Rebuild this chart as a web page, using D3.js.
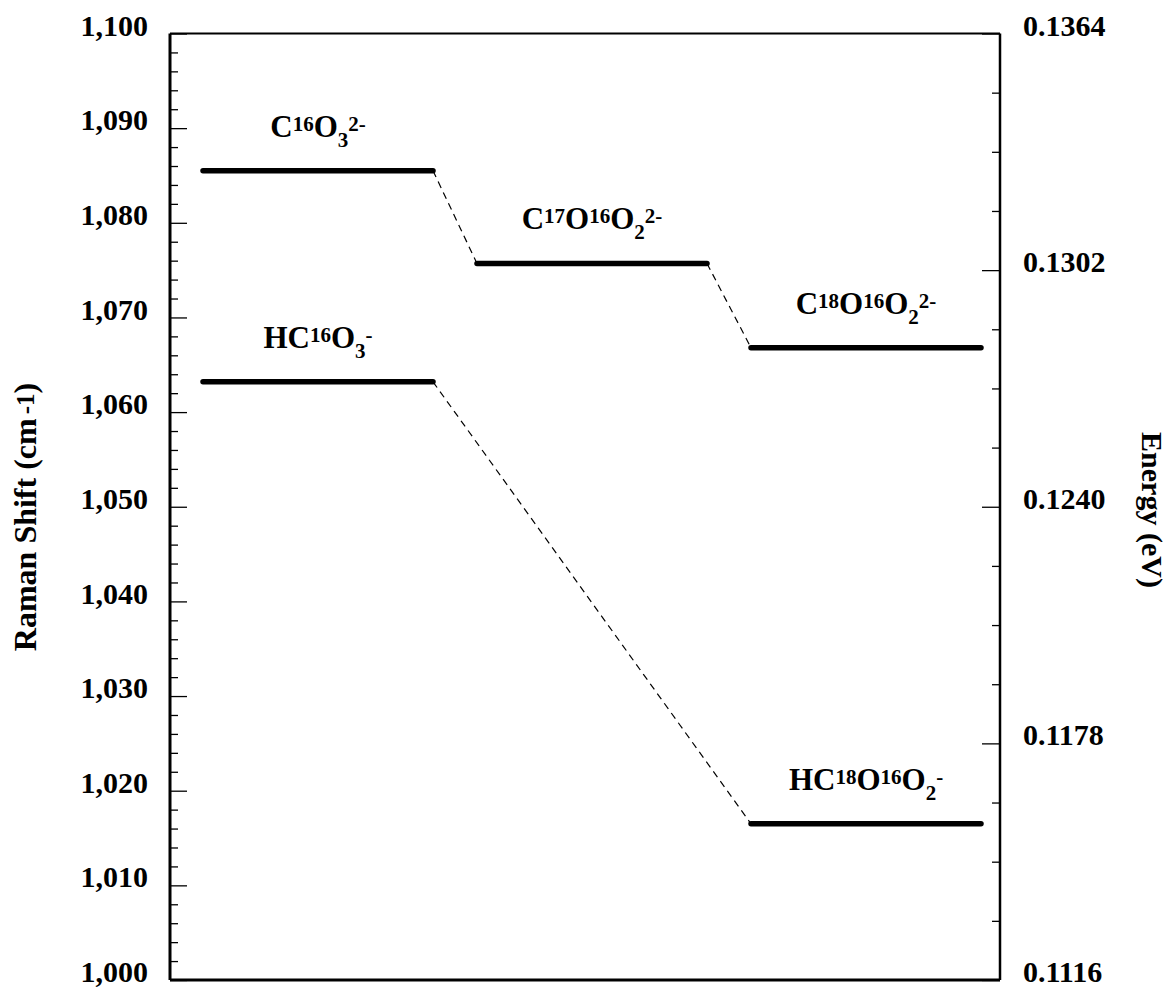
<!DOCTYPE html>
<html>
<head>
<meta charset="utf-8">
<script src="https://cdn.jsdelivr.net/npm/d3@7"></script>
<style>
  body { margin: 0; background: #fff; }
  text { font-family: "Liberation Serif", "Times New Roman", serif; font-weight: bold; }
</style>
</head>
<body>
<svg width="1170" height="987"></svg>
<script>
// Levels (Raman shift in cm-1), one per species
var species = ["C16O3 2-", "C17O16O2 2-", "C18O16O2 2-", "HC16O3-", "HC18O16O2-"];
var columns = [1, 2, 3, 1, 3];
var shifts = [1085.5, 1075.7, 1066.8, 1063.2, 1016.5];

// label pieces: [text, kind]  kind: "" normal, "sup", "sub"
var labelParts = [
    [["C", ""], ["16", "sup"], ["O", ""], ["3", "sub"], ["2-", "sup"]],
    [["C", ""], ["17", "sup"], ["O", ""], ["16", "sup"], ["O", ""], ["2", "sub"], ["2-", "sup"]],
    [["C", ""], ["18", "sup"], ["O", ""], ["16", "sup"], ["O", ""], ["2", "sub"], ["2-", "sup"]],
    [["HC", ""], ["16", "sup"], ["O", ""], ["3", "sub"], ["-", "sup"]],
    [["HC", ""], ["18", "sup"], ["O", ""], ["16", "sup"], ["O", ""], ["2", "sub"], ["-", "sup"]]
];

// dashed connectors between levels (index pairs)
var links = [[0, 1], [1, 2], [3, 4]];

// axis ticks
var leftTicks = [1000, 1010, 1020, 1030, 1040, 1050, 1060, 1070, 1080, 1090, 1100];
var rightTicks = [0.1116, 0.1178, 0.1240, 0.1302, 0.1364];

var svg = d3.select("svg");
var plotLeft = 170, plotTop = 33.5, plotRight = 1000, plotBottom = 980;

var y = d3.scaleLinear().domain([1000, 1100]).range([plotBottom, plotTop]);
var yE = d3.scaleLinear().domain([0.1116, 0.1364]).range([plotBottom, plotTop]);
var x = d3.scalePoint().domain([1, 2, 3]).range([plotLeft + 148, plotLeft + 696]);
var half = 115;

var leftMinor = d3.range(1000, 1101, 2).filter(function (v) { return v % 10 != 0; });
var rightMinor = d3.range(0, 17).map(function (i) { return 0.1116 + i * 0.00155; })
    .filter(function (v, i) { return i % 4 != 0; });

// minor ticks
svg.append("g")
    .attr("transform", "translate(" + plotLeft + ",0)")
    .call(d3.axisLeft(y).tickValues(leftMinor).tickSize(-8).tickFormat(""))
    .call(function (g) { g.select(".domain").remove(); });
svg.append("g")
    .attr("transform", "translate(" + plotRight + ",0)")
    .call(d3.axisRight(yE).tickValues(rightMinor).tickSize(-8).tickFormat(""))
    .call(function (g) { g.select(".domain").remove(); });

// major ticks + labels
var gl = svg.append("g")
    .attr("transform", "translate(" + plotLeft + ",0)")
    .call(d3.axisLeft(y).tickValues(leftTicks).tickSize(-17).tickSizeOuter(0)
        .tickPadding(22).tickFormat(d3.format(",")));
gl.select(".domain").remove();
gl.selectAll("text").attr("font-size", 30).attr("y", -8).attr("fill", "#000")
    .style("font-family", "'Liberation Serif', serif");

var gr = svg.append("g")
    .attr("transform", "translate(" + plotRight + ",0)")
    .call(d3.axisRight(yE).tickValues(rightTicks).tickSize(-18).tickSizeOuter(0)
        .tickPadding(23).tickFormat(d3.format(".4f")));
gr.select(".domain").remove();
gr.selectAll("text").attr("font-size", 30).attr("y", -8).attr("fill", "#000")
    .style("font-family", "'Liberation Serif', serif");

svg.selectAll(".tick line").attr("stroke", "#000").attr("stroke-width", 1.3);

// frame
svg.append("line").attr("x1", plotLeft).attr("x2", plotLeft).attr("y1", plotTop).attr("y2", plotBottom)
    .attr("stroke", "#000").attr("stroke-width", 3);
svg.append("line").attr("x1", plotRight).attr("x2", plotRight).attr("y1", plotTop).attr("y2", plotBottom)
    .attr("stroke", "#000").attr("stroke-width", 2.5);
svg.append("line").attr("x1", plotLeft).attr("x2", plotRight).attr("y1", plotTop).attr("y2", plotTop)
    .attr("stroke", "#000").attr("stroke-width", 2.2);
svg.append("line").attr("x1", plotLeft).attr("x2", plotRight).attr("y1", plotBottom).attr("y2", plotBottom)
    .attr("stroke", "#000").attr("stroke-width", 3);

// dashed connectors
svg.append("g")
    .selectAll("line")
    .data(links)
    .enter()
    .append("line")
    .attr("x1", function (d) { return x(columns[d[0]]) + half; })
    .attr("y1", function (d) { return y(shifts[d[0]]); })
    .attr("x2", function (d) { return x(columns[d[1]]) - half; })
    .attr("y2", function (d) { return y(shifts[d[1]]); })
    .attr("stroke", "#000")
    .attr("stroke-width", 1.2)
    .attr("stroke-dasharray", "7,5");

// levels
svg.append("g")
    .selectAll("line")
    .data(shifts)
    .enter()
    .append("line")
    .attr("x1", function (d, i) { return x(columns[i]) - half; })
    .attr("x2", function (d, i) { return x(columns[i]) + half; })
    .attr("y1", function (d) { return y(d); })
    .attr("y2", function (d) { return y(d); })
    .attr("stroke", "#000")
    .attr("stroke-width", 5.5)
    .attr("stroke-linecap", "round");

// level labels
species.forEach(function (name, i) {
    var t = svg.append("text")
        .attr("x", x(columns[i]))
        .attr("y", y(shifts[i]) - 34)
        .attr("text-anchor", "middle")
        .attr("font-size", 31)
        .attr("fill", "#000");
    var level = 0;
    labelParts[i].forEach(function (p) {
        var target = p[1] == "sup" ? -6 : (p[1] == "sub" ? 10 : 0);
        t.append("tspan")
            .attr("dy", target - level)
            .attr("font-size", p[1] == "" ? 31 : 21)
            .text(p[0]);
        level = target;
    });
});

// axis titles
var yt = svg.append("text")
    .attr("transform", "translate(36,517) rotate(-90)")
    .attr("text-anchor", "middle")
    .attr("font-size", 32)
    .attr("fill", "#000");
yt.append("tspan").text("Raman Shift (cm");
yt.append("tspan").attr("font-size", 25).attr("dx", 4).attr("dy", -2).text("-1");
yt.append("tspan").attr("dy", 2).text(")");

svg.append("text")
    .attr("transform", "translate(1142,510) rotate(90)")
    .attr("text-anchor", "middle")
    .attr("font-size", 30)
    .attr("fill", "#000")
    .text("Energy (eV)");
</script>
</body>
</html>
